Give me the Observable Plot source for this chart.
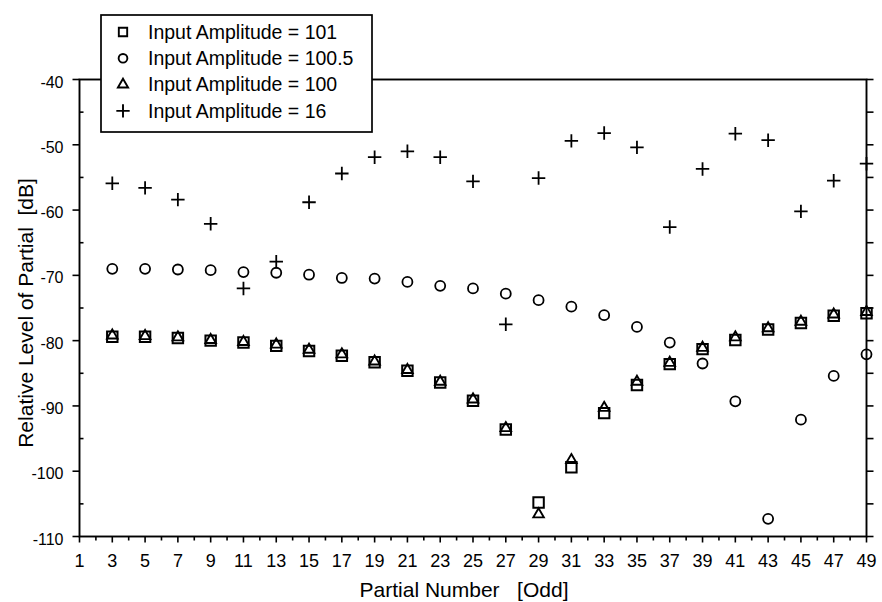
<!DOCTYPE html>
<html>
<head>
<meta charset="utf-8">
<script src="https://cdn.jsdelivr.net/npm/d3@7"></script>
<script src="https://cdn.jsdelivr.net/npm/@observablehq/plot@0.6"></script>
<style>
  body { margin: 0; background: #fff; }
  #chart { position: relative; width: 882px; height: 602px; }
  #chart svg text { white-space: pre; }
  g[aria-label="x-axis tick label"] text,
  g[aria-label="y-axis tick label"] text { font-family: "Liberation Sans Narrow", "Arial Narrow", "Liberation Sans", Arial, sans-serif; }
</style>
</head>
<body>
<div id="chart"></div>
<script>
// Odd partial numbers that were measured
const partials = [3, 5, 7, 9, 11, 13, 15, 17, 19, 21, 23, 25, 27, 29, 31, 33, 35, 37, 39, 41, 43, 45, 47, 49];

// Relative level of each partial [dB], one array per input amplitude
const level101 = [-79.4, -79.4, -79.6, -80.0, -80.3, -80.8, -81.6, -82.3, -83.3, -84.6, -86.4, -89.2,
                  -93.6, -104.8, -99.4, -91.1, -86.8, -83.6, -81.3, -79.9, -78.3, -77.3, -76.2, -75.8];
const level100_5 = [-69.0, -69.0, -69.1, -69.2, -69.5, -69.6, -69.9, -70.4, -70.5, -71.0, -71.6, -72.0,
                    -72.8, -73.8, -74.8, -76.1, -77.9, -80.3, -83.5, -89.3, -107.3, -92.1, -85.4, -82.1];
const level100 = [-79.2, -79.3, -79.5, -79.9, -80.2, -80.6, -81.4, -82.1, -83.2, -84.5, -86.3, -89.0,
                  -93.4, -106.6, -98.3, -90.3, -86.3, -83.4, -81.1, -79.5, -78.1, -77.1, -76.0, -75.6];
const level16 = [-55.9, -56.6, -58.4, -62.1, -72.0, -67.9, -58.8, -54.4, -51.9, -51.0, -51.9, -55.6,
                 -77.5, -55.1, -49.4, -48.2, -50.4, -62.6, -53.7, -48.3, -49.3, -60.2, -55.5, -52.9];

const seriesNames = ["Input Amplitude = 101", "Input Amplitude = 100.5", "Input Amplitude = 100", "Input Amplitude = 16"];
const seriesSymbols = ["square", "circle", "triangle", "plus"];

// Axis ticks
const xDomain = [1, 49];
const yDomain = [-110, -40];
const xTickLabels = d3.range(1, 50, 2);
const xTickMarks = d3.range(1, 50, 1);
const yTickLabels = d3.range(-110, -39, 10);
const yMinorTicks = d3.range(-105, -40, 10);
const yRightTicks = d3.range(-110, -39, 5);

const xTitle = "Partial Number   [Odd]";
const yTitle = "Relative Level of Partial  [dB]";

const rows = (values) => partials.map((p, i) => ({partial: p, level: values[i]}));

// Short line segments used as tick marks
const segment = (x1, y1, x2, y2) => ({draw(ctx) { ctx.moveTo(x1, y1); ctx.lineTo(x2, y2); }});

const sans = "'Liberation Sans', Arial, Helvetica, sans-serif";

const plot = Plot.plot({
  width: 882,
  height: 602,
  marginLeft: 79,
  marginRight: 16,
  marginTop: 79,
  marginBottom: 66,
  style: {fontFamily: sans, background: "white", color: "black", overflow: "visible"},
  x: {domain: xDomain, axis: null},
  y: {domain: yDomain, axis: null},
  symbol: {domain: ["odd", "even"], range: [segment(0, 0, 0, 6), segment(0, 0, 0, 4)]},
  marks: [
    Plot.frame({stroke: "black", strokeWidth: 1.9}),
    // tick marks
    Plot.dot(yTickLabels, {y: d => d, frameAnchor: "left", symbol: segment(-7, 0, 0, 0), stroke: "black", strokeWidth: 1.6, fill: "none"}),
    Plot.dot(yMinorTicks, {y: d => d, frameAnchor: "left", symbol: segment(0, 0, 4, 0), stroke: "black", strokeWidth: 1.6, fill: "none"}),
    Plot.dot(yRightTicks, {y: d => d, frameAnchor: "right", symbol: segment(0, 0, 7, 0), stroke: "black", strokeWidth: 1.6, fill: "none"}),
    Plot.dot(xTickMarks, {x: d => d, frameAnchor: "bottom", symbol: d => d % 2 ? "odd" : "even", stroke: "black", strokeWidth: 1.6, fill: "none"}),
    // tick labels
    Plot.axisX(xTickLabels, {tickSize: 0, tickPadding: 18, fontSize: 18, label: null, tickFormat: d => String(d)}),
    Plot.axisY(yTickLabels, {tickSize: 0, tickPadding: 16, dy: 3, fontSize: 16, label: null, tickFormat: d => String(d)}),
    // axis titles
    Plot.text([xTitle], {frameAnchor: "bottom", textAnchor: "middle", lineAnchor: "middle", dx: -9, dy: 54, fontSize: 21, text: d => d}),
    Plot.text([yTitle], {frameAnchor: "left", textAnchor: "middle", lineAnchor: "middle", rotate: -90, dx: -53, dy: 5, fontSize: 21, text: d => d}),
    // data
    Plot.dot(rows(level101), {x: "partial", y: "level", symbol: "square", r: 5.9, stroke: "black", strokeWidth: 2, fill: "none"}),
    Plot.dot(rows(level100), {x: "partial", y: "level", symbol: "triangle", r: 3.9, stroke: "black", strokeWidth: 1.9, fill: "none"}),
    Plot.dot(rows(level100_5), {x: "partial", y: "level", symbol: "circle", r: 5, stroke: "black", strokeWidth: 1.8, fill: "none"}),
    Plot.dot(rows(level16), {x: "partial", y: "level", symbol: "plus", r: 4.4, stroke: "black", strokeWidth: 1.8, fill: "none"})
  ]
});

document.getElementById("chart").appendChild(plot);

// Legend box, laid over the top edge of the frame
const legend = d3.select("#chart").append("svg")
  .attr("width", 274).attr("height", 120)
  .style("position", "absolute").style("left", "100px").style("top", "14px");
legend.append("rect")
  .attr("x", 1).attr("y", 1).attr("width", 271).attr("height", 117)
  .attr("fill", "white").attr("stroke", "black").attr("stroke-width", 1.7);
const d3Symbols = {square: d3.symbolSquare, circle: d3.symbolCircle, triangle: d3.symbolTriangle, plus: d3.symbolPlus};
const legendSizes = {square: 70, circle: 60, triangle: 45, plus: 60};
seriesNames.forEach((name, i) => {
  const g = legend.append("g").attr("transform", `translate(23, ${18 + i * 26.3})`);
  const s = seriesSymbols[i];
  g.append("path").attr("d", d3.symbol(d3Symbols[s], legendSizes[s])())
    .attr("fill", "none").attr("stroke", "black").attr("stroke-width", 1.9);
  g.append("text").attr("x", 25).attr("dy", "0.35em")
    .attr("font-family", sans).attr("font-size", 19.5).attr("fill", "black").text(name);
});
</script>
</body>
</html>
